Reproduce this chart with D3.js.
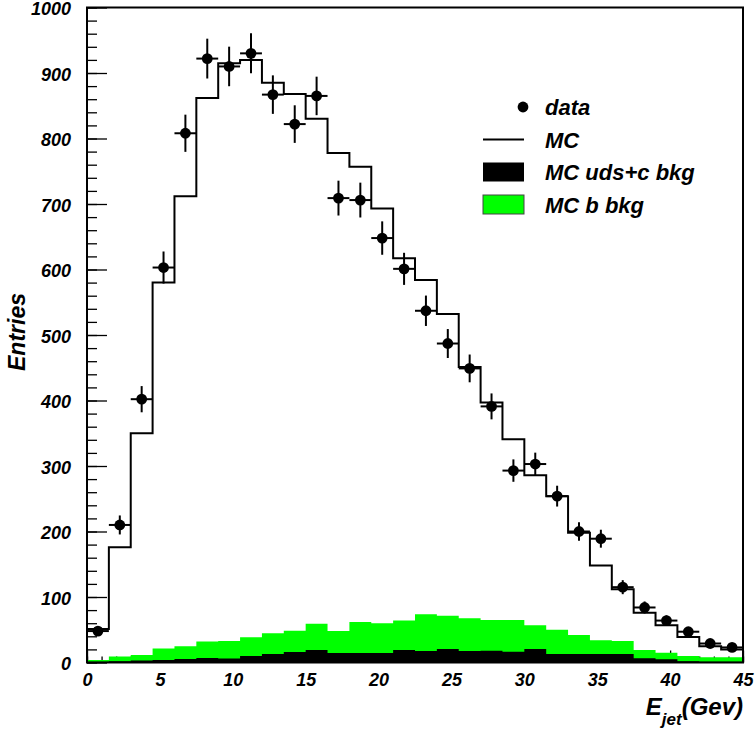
<!DOCTYPE html>
<html>
<head>
<meta charset="utf-8">
<script src="https://cdn.jsdelivr.net/npm/d3@7"></script>
<style>
  body { margin: 0; background: #fff; }
  svg text { font-family: "Liberation Sans", Arial, sans-serif; font-weight: bold; font-style: italic; fill: #000; }
</style>
</head>
<body>
<div id="chart"></div>
<script>
// bin edges: 30 bins of 1.5 GeV from 0 to 45
const binLow = [0, 1.5, 3, 4.5, 6, 7.5, 9, 10.5, 12, 13.5, 15, 16.5, 18, 19.5, 21,
                22.5, 24, 25.5, 27, 28.5, 30, 31.5, 33, 34.5, 36, 37.5, 39, 40.5, 42, 43.5];
const binWidth = 1.5;

// data points with errors
const dataCounts = [48, 210, 402, 603, 808, 922, 910, 930, 867, 822, 865, 709, 706, 648, 601,
                    537, 487, 449, 391, 293, 303, 254, 200, 189, 115, 84, 64, 47, 29, 23];
const dataErrors = [7, 14.5, 20, 24.5, 28.4, 30.4, 30.2, 30.5, 29.4, 28.7, 29.4, 26.6, 26.6, 25.5, 24.5,
                    23.2, 22.1, 21.2, 19.8, 17.1, 17.4, 15.9, 14.1, 13.7, 10.7, 9.2, 8, 6.9, 5.4, 4.8];

// MC total
const mcCounts = [51, 176, 350, 580, 712, 862, 915, 920, 885, 868, 830, 778, 757, 693, 617,
                  584, 532, 451, 397, 341, 286, 254, 198, 148, 112, 76, 57, 39, 25, 20];

// backgrounds (b bkg is stacked on top of uds+c)
const udscBkg = [1, 2, 3, 4, 5.5, 7, 6, 10, 13, 16, 19, 14.5, 14.5, 14.5, 19,
                 17.5, 20.5, 17.5, 18, 16.5, 20.5, 13, 13, 13, 13, 6.5, 5, 2, 1, 1];
const bBkg = [3, 7, 8.5, 17.5, 19.5, 25, 27, 28.5, 31.5, 32.5, 40, 33.5, 47.5, 45.5, 45,
              56, 51, 50, 47, 48.5, 36.5, 37, 29, 21, 20, 12.5, 10, 8, 7, 7];

const yTicks = [0, 100, 200, 300, 400, 500, 600, 700, 800, 900, 1000];
const xTicks = [0, 5, 10, 15, 20, 25, 30, 35, 40, 45];

const width = 756, height = 730;

const svg = d3.select("#chart").append("svg")
    .attr("width", width)
    .attr("height", height);

svg.append("rect").attr("width", width).attr("height", height).attr("fill", "#fff");

const xScale = d3.scaleLinear().domain([0, 45]).range([87, 743]);
const yScale = d3.scaleLinear().domain([0, 1000]).range([662.5, 7.5]);

// y axis: major ticks pointing inwards, minor ticks every 20
const yMinor = d3.range(0, 1001, 20);
svg.append("g")
    .attr("transform", "translate(87,0)")
    .call(d3.axisLeft(yScale).tickValues(yMinor).tickSize(-10).tickFormat(""))
    .call(g => g.select(".domain").remove())
    .call(g => g.selectAll("line").attr("stroke", "#000").attr("stroke-width", 1.3));

svg.append("g")
    .attr("transform", "translate(87,0)")
    .call(d3.axisLeft(yScale).tickValues(yTicks).tickSize(-20).tickPadding(16).tickFormat(d3.format("d")))
    .call(g => g.select(".domain").remove())
    .call(g => g.selectAll("line").attr("stroke", "#000").attr("stroke-width", 1.3))
    .call(g => g.selectAll("text").attr("dy", "0.4em").style("font-size", "18px").attr("font-family", null));

// x axis (ticks are mostly hidden by the filled backgrounds)
const xMinor = d3.range(0, 46, 1);
svg.append("g")
    .attr("transform", "translate(0,662.5)")
    .call(d3.axisBottom(xScale).tickValues(xMinor).tickSize(-6).tickFormat(""))
    .call(g => g.select(".domain").remove())
    .call(g => g.selectAll("line").attr("stroke", "#000").attr("stroke-width", 1.3));

svg.append("g")
    .attr("transform", "translate(0,662.5)")
    .call(d3.axisBottom(xScale).tickValues(xTicks).tickSize(-12).tickPadding(11).tickFormat(d3.format("d")))
    .call(g => g.select(".domain").remove())
    .call(g => g.selectAll("line").attr("stroke", "#000").attr("stroke-width", 1.3))
    .call(g => g.selectAll("text").style("font-size", "18px").attr("font-family", null));

// step points for histograms
function stepPoints(values) {
    const pts = values.map((v, i) => [binLow[i], v]);
    pts.push([binLow[values.length - 1] + binWidth, values[values.length - 1]]);
    return pts;
}

const area = d3.area()
    .curve(d3.curveStepAfter)
    .x(d => xScale(d[0]))
    .y0(yScale(0))
    .y1(d => yScale(d[1]));

// stacked background: green = b + uds+c, black = uds+c
const stackedTop = bBkg.map((v, i) => v + udscBkg[i]);

svg.append("path")
    .attr("d", area(stepPoints(stackedTop)))
    .attr("fill", "#00ff00");

svg.append("path")
    .attr("d", area(stepPoints(udscBkg)))
    .attr("fill", "#000");

// MC outline
const mcPts = [[0, 0]].concat(stepPoints(mcCounts), [[45, 0]]);
const line = d3.line()
    .curve(d3.curveStepAfter)
    .x(d => xScale(d[0]))
    .y(d => yScale(d[1]));

svg.append("path")
    .attr("d", line(mcPts))
    .attr("fill", "none")
    .attr("stroke", "#000")
    .attr("stroke-width", 2);

// data points with error bars
const points = svg.append("g").selectAll("g")
    .data(dataCounts)
    .enter().append("g");

points.append("line")
    .attr("x1", (d, i) => xScale(binLow[i]))
    .attr("x2", (d, i) => xScale(binLow[i] + binWidth))
    .attr("y1", d => yScale(d))
    .attr("y2", d => yScale(d))
    .attr("stroke", "#000")
    .attr("stroke-width", 2);

points.append("line")
    .attr("x1", (d, i) => xScale(binLow[i] + binWidth / 2))
    .attr("x2", (d, i) => xScale(binLow[i] + binWidth / 2))
    .attr("y1", (d, i) => yScale(d - dataErrors[i]))
    .attr("y2", (d, i) => yScale(d + dataErrors[i]))
    .attr("stroke", "#000")
    .attr("stroke-width", 2);

points.append("circle")
    .attr("cx", (d, i) => xScale(binLow[i] + binWidth / 2))
    .attr("cy", d => yScale(d))
    .attr("r", 5.4)
    .attr("fill", "#000");

// frame
svg.append("rect")
    .attr("x", 87)
    .attr("y", 7.5)
    .attr("width", 743 - 87)
    .attr("height", 662.5 - 7.5)
    .attr("fill", "none")
    .attr("stroke", "#000")
    .attr("stroke-width", 2);

// axis titles
svg.append("text")
    .attr("transform", "translate(25,293) rotate(-90)")
    .attr("text-anchor", "end")
    .style("font-size", "23px")
    .text("Entries");

const xTitle = svg.append("text")
    .attr("x", 743)
    .attr("y", 715)
    .attr("text-anchor", "end")
    .style("font-size", "24px");
xTitle.append("tspan").text("E");
xTitle.append("tspan").attr("dy", 10).style("font-size", "17px").text("jet");
xTitle.append("tspan").attr("dy", -10).text("(Gev)");

// legend
const legend = svg.append("g");
const rowY = [107, 139.5, 172, 204.5];

legend.append("circle").attr("cx", 523).attr("cy", rowY[0]).attr("r", 5.4).attr("fill", "#000");
legend.append("line")
    .attr("x1", 483).attr("x2", 524)
    .attr("y1", rowY[1]).attr("y2", rowY[1])
    .attr("stroke", "#000").attr("stroke-width", 2);
legend.append("rect")
    .attr("x", 483).attr("y", rowY[2] - 9.5)
    .attr("width", 41).attr("height", 19)
    .attr("fill", "#000");
legend.append("rect")
    .attr("x", 483).attr("y", rowY[3] - 9.5)
    .attr("width", 41).attr("height", 19)
    .attr("fill", "#00ff00")
    .attr("stroke", "#444").attr("stroke-width", 1);

const legendLabels = ["data", "MC", "MC uds+c bkg", "MC b bkg"];
legend.selectAll("text.lab")
    .data(legendLabels)
    .enter().append("text")
    .attr("class", "lab")
    .attr("x", 545)
    .attr("y", (d, i) => rowY[i] + 8)
    .style("font-size", "22px")
    .text(d => d);
</script>
</body>
</html>
